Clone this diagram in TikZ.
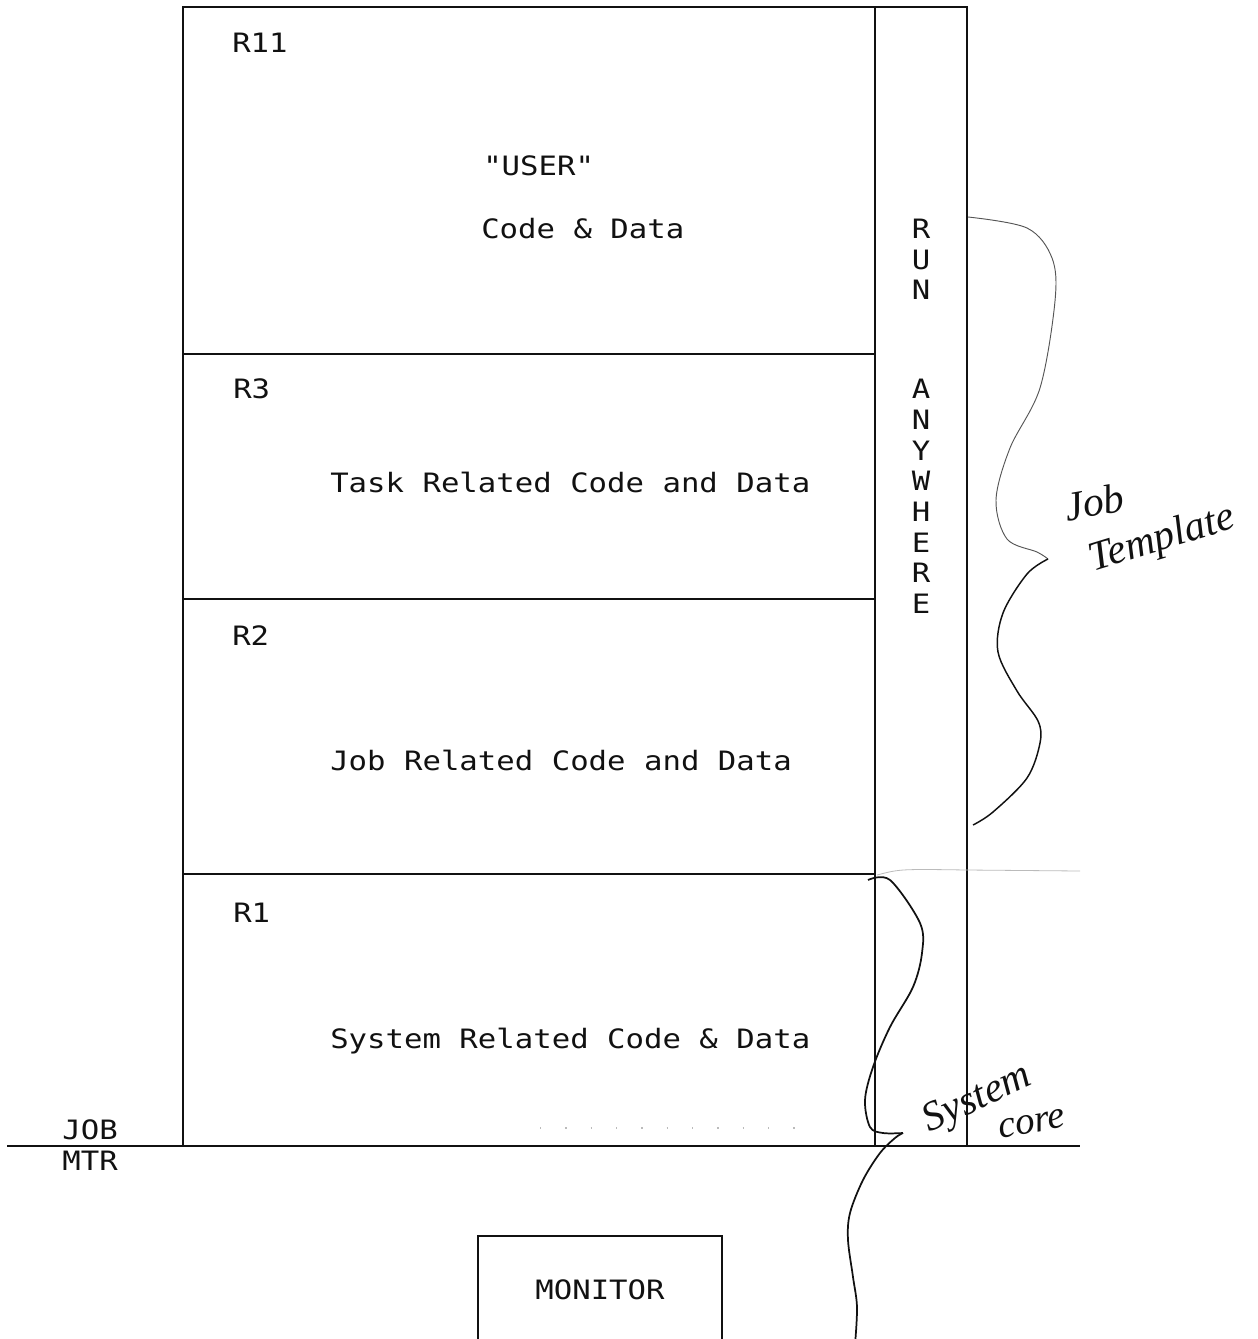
\documentclass[tikz,border=0pt]{standalone}
\usepackage{fontspec}
\newfontfamily\plotter[FakeStretch=1.15]{DejaVu Sans Mono}
\newfontfamily\scribble{Liberation Serif}

\begin{document}
\begin{tikzpicture}[x=0.75pt,y=-0.75pt,
  frame/.style={ink,line width=2.2pt},
  lbl/.style={anchor=base west,inner sep=0pt,text=ink,font=\plotter\fontsize{20}{24}\selectfont},
  letter/.style={lbl,anchor=base},
  scrawl/.style={inner sep=0pt,text=ink,font=\scribble\itshape\fontsize{31}{35}\selectfont}]
\definecolor{ink}{HTML}{111111}\definecolor{pencil}{HTML}{555555}
\definecolor{dust}{HTML}{BBBBBB}
\useasboundingbox (0,0) rectangle (1257,1339);
\draw[frame] (183,1146) -- (183,7) -- (967,7) -- (967,1146);
\draw[frame] (875,7) -- (875,1146);
\draw[frame] (183,354) -- (875,354);
\draw[frame] (183,599) -- (875,599);
\draw[frame] (183,874) -- (875,874);
\draw[frame] (7,1146) -- (1080,1146);
\draw[dust,line width=0.6pt] (877,875) .. controls (900,869) .. (967,870) -- (1080,871);
\draw[dust,line width=1pt,dash pattern=on 1pt off 18pt] (540,1128) -- (795,1128);
\node[lbl] (r11) at (232,52) {R11};
\node[lbl] (user) at (483,175) {"USER"};
\node[lbl] (userdata) at (481,238) {Code \& Data};
\node[lbl] (r3) at (233,398) {R3};
\node[lbl] (task) at (330,492) {Task Related Code and Data};
\node[lbl] (r2) at (232,645) {R2};
\node[lbl] (job) at (330,770) {Job Related Code and Data};
\node[lbl] (r1) at (233,922) {R1};
\node[lbl] (sys) at (330,1048) {System Related Code \& Data};
\node[lbl,anchor=base east] (jobmark) at (118,1139) {JOB};
\node[lbl,anchor=base east] (mtrmark) at (118,1170) {MTR};
\node[letter] (run1) at (921,238) {R};
\node[letter] (run2) at (921,269) {U};
\node[letter] (run3) at (921,299) {N};
\node[letter] (any1) at (921,398) {A};
\node[letter] (any2) at (921,429) {N};
\node[letter] (any3) at (921,460) {Y};
\node[letter] (any4) at (921,490) {W};
\node[letter] (any5) at (921,521) {H};
\node[letter] (any6) at (921,552) {E};
\node[letter] (any7) at (921,582) {R};
\node[letter] (any8) at (921,613) {E};
\node[draw=ink,line width=2.2pt,minimum width=183pt,minimum height=81pt,inner sep=0pt,
  text=ink,font=\plotter\fontsize{20}{24}\selectfont] (monitor) at (600,1290) {MONITOR};
\draw[pencil,line width=0.7pt] plot[smooth,tension=0.55] coordinates {(968,217) (1027,228)
  (1052,258) (1055,301) (1040,388) (1010,448) (996,500) (1007,539) (1037,552) (1048,559)};
\draw[ink,line width=1.1pt] plot[smooth,tension=0.55] coordinates {(1048,559) (1027,574)
  (1003,613) (998,652) (1017,691) (1038,721) (1040,743) (1027,778) (993,812) (973,825)};
\node[scrawl,rotate=10] (jobword) at (1094,502) {Job};
\node[scrawl,rotate=17] (template) at (1162,540) {Template};
\draw[ink,line width=1.3pt] plot[smooth,tension=0.55] coordinates {(868,880) (890,880)
  (920,923) (922,953) (913,987) (890,1027) (873,1067) (865,1100) (870,1127) (883,1133) (903,1133)};
\draw[ink,line width=1.3pt] plot[smooth,tension=0.55] coordinates {(903,1133) (895,1138)
  (880,1153) (863,1180) (850,1213) (848,1240) (853,1277) (857,1307) (855,1345)};
\node[scrawl,rotate=25] (system) at (978,1100) {System};
\node[scrawl,rotate=10,font=\scribble\itshape\fontsize{29}{33}\selectfont] (core) at (1032,1124) {core};
\end{tikzpicture}
\end{document}
